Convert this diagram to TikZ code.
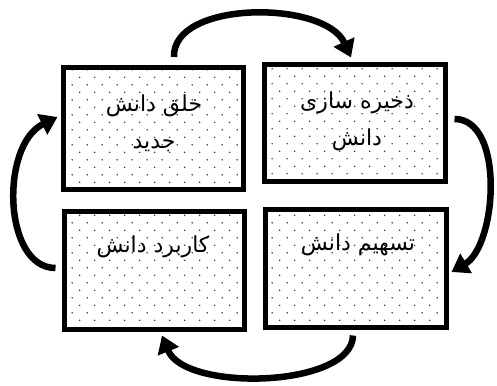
\documentclass[tikz,border=0pt]{standalone}
\usepackage{fontspec}
\newfontfamily\arabicfont[Script=Arabic]{DejaVu Sans}
\TeXXeTstate=1
\usetikzlibrary{patterns.meta,arrows.meta}
\tikzdeclarepattern{
  name=stagdots,
  type=uncolored,
  bottom left={(0pt,0pt)},
  top right={(15.4pt,15.4pt)},
  tile size={(15.4pt,15.4pt)},
  code={
    \fill (3.85pt,3.85pt) circle (0.8pt);
    \fill (11.55pt,11.55pt) circle (0.8pt);
  }
}
\begin{document}
\begin{tikzpicture}[x=1pt,y=-1pt,
  box/.style={draw=black, line width=5pt, preaction={fill=white}, pattern=stagdots, pattern color=black!85, inner sep=0pt},
  lbl/.style={font=\arabicfont\fontsize{22}{37}\selectfont, align=center, inner sep=0pt, text=black},
  arr/.style={line width=6.5pt, draw=black, -{Triangle[length=17pt,width=22pt]}}]
\useasboundingbox (0,0) rectangle (497,385);
\node[box, minimum width=180pt, minimum height=122pt] (tl) at (153.5,128.5) {};
\node[box, minimum width=181pt, minimum height=117pt] (tr) at (355,123) {};
\node[box, minimum width=180pt, minimum height=118pt] (bl) at (154.5,270.5) {};
\node[box, minimum width=181pt, minimum height=118pt] (br) at (356,268.5) {};
\node[lbl] (tlt) at (154,123.5) {\beginR خلق دانش\endR\\\beginR جدید\endR};
\node[lbl] (trt) at (357,121.5) {\beginR ذخیره سازی\endR\\\beginR دانش\endR};
\node[lbl] (blt) at (153,247) {\beginR کاربرد دانش\endR};
\node[lbl] (brt) at (358,245) {\beginR تسهیم دانش\endR};
\draw[arr] ([shift={(20.5,-8)}]tl.north) .. controls (172,0) and (325,0) .. ([shift={(-4,-4.5)}]tr.north);
\draw[arr] ([shift={(6.5,-4)}]tr.east) .. controls (505,119) and (497,245) .. ([shift={(2.5,3.5)}]br.east);
\draw[arr] ([shift={(-3,5.5)}]br.south) .. controls (352,388) and (185,392) .. ([shift={(7.5,3.5)}]bl.south);
\draw[arr] ([shift={(-6.5,-2.5)}]bl.west) .. controls (3,268) and (0,145) .. ([shift={(-3.5,-11.5)}]tl.west);
\end{tikzpicture}
\end{document}
